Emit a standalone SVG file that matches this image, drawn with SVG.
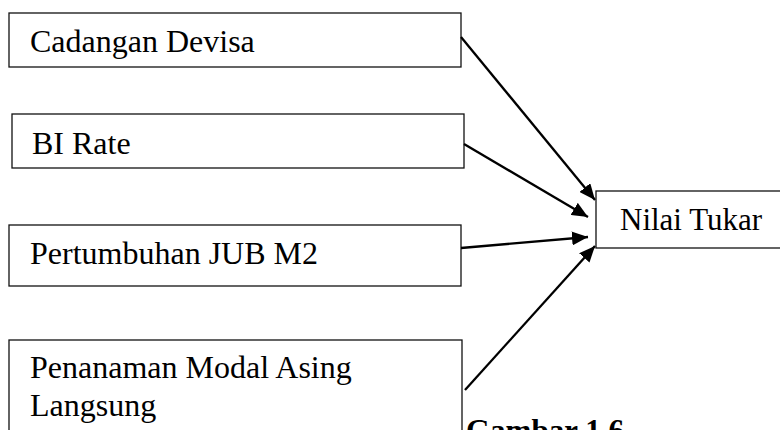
<svg xmlns="http://www.w3.org/2000/svg" width="780" height="430" viewBox="0 0 780 430">
<style>
.box{fill:#fff;stroke:#111;stroke-width:1.3}
.t{font-family:"Liberation Serif","Times New Roman",serif;font-size:32px;fill:#000}
.n{font-family:"Liberation Serif","Times New Roman",serif;font-size:31px;fill:#000}
.b{font-family:"Liberation Serif","Times New Roman",serif;font-size:31px;font-weight:bold;fill:#000}
.c{stroke:#000;stroke-width:2.3;fill:none;marker-end:url(#ah)}
</style>
<defs>
<marker id="ah" markerUnits="userSpaceOnUse" markerWidth="18" markerHeight="14" refX="16" refY="7" orient="auto">
<path d="M0,0 L16,7 L0,14 Z" fill="#000"/>
</marker>
</defs>
<rect width="780" height="430" fill="#fff"/>
<g id="n1"><rect class="box" x="9" y="13" width="452" height="54"/><text class="t" x="30" y="52">Cadangan Devisa</text></g>
<g id="n2"><rect class="box" x="12" y="114" width="452" height="54"/><text class="t" x="32" y="154">BI Rate</text></g>
<g id="n3"><rect class="box" x="9" y="225" width="452" height="61"/><text class="t" x="30" y="264">Pertumbuhan JUB M2</text></g>
<g id="n4"><rect class="box" x="9" y="340" width="453" height="110"/><text class="t" x="30" y="378">Penanaman Modal Asing</text><text class="t" x="30" y="416">Langsung</text></g>
<g id="n5"><rect class="box" x="596" y="191" width="200" height="57"/><text class="n" x="620" y="230">Nilai Tukar</text></g>
<g id="connectors">
<line class="c" x1="461" y1="37" x2="595" y2="200"/>
<line class="c" x1="464" y1="144" x2="588" y2="217"/>
<line class="c" x1="461" y1="248" x2="588" y2="237"/>
<line class="c" x1="465" y1="390" x2="595" y2="246"/>
</g>
<text class="b" x="466" y="441">Gambar 1.6</text>
</svg>
